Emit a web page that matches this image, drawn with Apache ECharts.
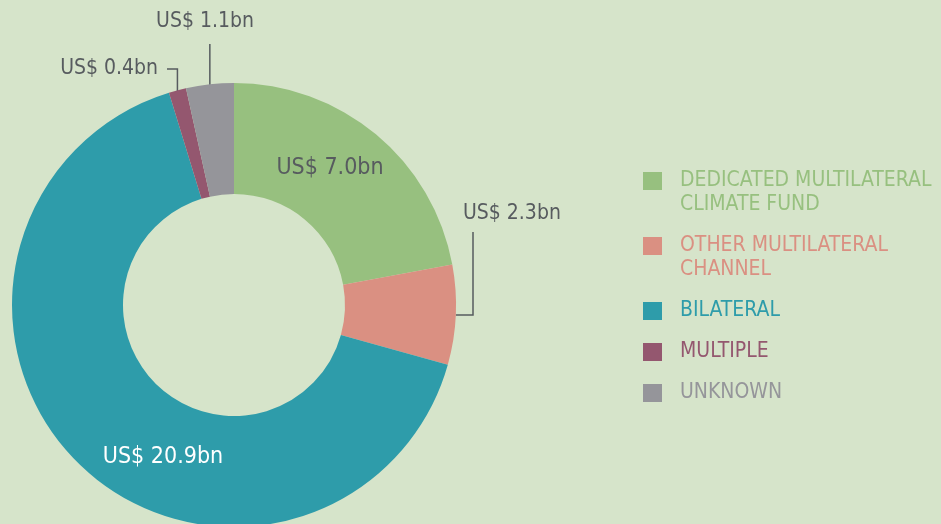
<!DOCTYPE html>
<html>
<head>
<meta charset="utf-8">
<script src="https://cdn.jsdelivr.net/npm/echarts@6/dist/echarts.min.js"></script>
<style>
html,body{margin:0;padding:0;background:#d6e4ca;}
#chart{width:941px;height:524px;}
</style>
</head>
<body>
<div id="chart"></div>
<script>
var categories = ['DEDICATED MULTILATERAL\nCLIMATE FUND', 'OTHER MULTILATERAL\nCHANNEL', 'BILATERAL', 'MULTIPLE', 'UNKNOWN'];
var values = [7.0, 2.3, 20.9, 0.4, 1.1];
var colors = ['#97c07f', '#da9082', '#2e9caa', '#94576f', '#95959a'];
var legendCenters = [181, 246, 311, 352, 393];

var FONT = '"DejaVu Sans Condensed", "DejaVu Sans", sans-serif';
var labelColor = '#575b5f';

var data = values.map(function (v, i) {
  var inside = (i === 0 || i === 2);
  return {
    name: categories[i],
    value: v,
    itemStyle: { color: colors[i] },
    label: {
      show: true,
      position: inside ? 'inside' : 'outside',
      color: i === 2 ? '#ffffff' : labelColor,
      fontSize: inside ? 23 : 21
    },
    labelLine: { show: !inside }
  };
});

var legends = categories.map(function (name, i) {
  var twoLine = name.indexOf('\n') >= 0;
  return {
    show: true,
    orient: 'vertical',
    left: 643,
    top: legendCenters[i] - (twoLine ? 36 : 12),
    padding: 0,
    itemWidth: 19,
    itemHeight: 18,
    icon: 'rect',
    selectedMode: false,
    formatter: function (n) { return twoLine ? '\n' + n : n; },
    data: [{
      name: name,
      textStyle: {
        color: colors[i],
        padding: [0, 0, 0, 13]
      }
    }],
    textStyle: {
      fontFamily: FONT,
      fontSize: 21,
      lineHeight: 24
    }
  };
});

var chart = echarts.init(document.getElementById('chart'), null, { renderer: 'canvas' });
chart.setOption({
  backgroundColor: '#d6e4ca',
  animation: false,
  legend: legends,
  series: [{
    type: 'pie',
    center: [234, 305],
    radius: [111, 222],
    startAngle: 90,
    clockwise: true,
    avoidLabelOverlap: false,
    emphasis: { disabled: true },
    label: {
      fontFamily: FONT,
      fontSize: 21,
      formatter: function (p) { return 'US$ ' + p.value.toFixed(1) + 'bn'; }
    },
    labelLine: {
      lineStyle: { color: labelColor, width: 1.5 }
    },
    labelLayout: function (p) {
      var pts = p.labelLinePoints;
      var p0 = pts ? pts[0] : null;
      if (p.dataIndex === 0) {
        return { x: 330, y: 168, align: 'center', verticalAlign: 'middle' };
      }
      if (p.dataIndex === 2) {
        return { x: 163, y: 457, align: 'center', verticalAlign: 'middle' };
      }
      if (p.dataIndex === 1) {
        return {
          x: 463, y: 214, align: 'left', verticalAlign: 'middle',
          labelLinePoints: [p0, [473, p0[1]], [473, 232]]
        };
      }
      if (p.dataIndex === 3) {
        return {
          x: 158, y: 69, align: 'right', verticalAlign: 'middle',
          labelLinePoints: [[p0[0], p0[1] + 4], [p0[0], 69], [167, 69]]
        };
      }
      if (p.dataIndex === 4) {
        return {
          x: 205, y: 22, align: 'center', verticalAlign: 'middle',
          labelLinePoints: [[p0[0], p0[1] + 8], [p0[0], 60], [p0[0], 44]]
        };
      }
    },
    data: data
  }]
});
</script>
</body>
</html>
